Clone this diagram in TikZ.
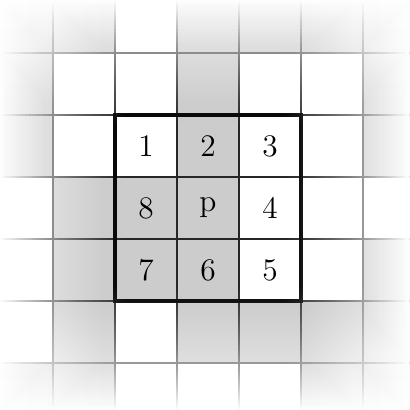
\documentclass[tikz,border=0pt]{standalone}
\usepackage{tikz}
\definecolor{cellfill}{HTML}{CCCCCC}

\begin{document}
\begin{tikzpicture}[
  font=\Large,
  cell/.style={fill=cellfill},
  gridline/.style={line width=0.55pt, draw=black!85},
  window/.style={line width=1.6pt, draw=black},
  veil/.style={fill=white, draw=none}
]
  \coordinate (tl) at (-0.855,0.855);
  \coordinate (br) at (5.742,-5.758);
  \useasboundingbox (tl) rectangle (br);
  \clip (tl) rectangle (br);

  % Gray pixels
  \foreach \cx/\cy in {-1/0,0/0,2/0,3/0,4/0,5/0,
                       -1/-1,2/-1,5/-1,
                       -1/-2,2/-2,5/-2,
                       0/-3,1/-3,2/-3,
                       0/-4,1/-4,2/-4,5/-4,
                       0/-5,2/-5,3/-5,4/-5,5/-5,
                       -1/-6,0/-6,4/-6,5/-6}
    \fill[cell] (\cx,\cy) rectangle ++(1,1);

  % Pixel grid
  \draw[gridline] (-1,-6) grid (6,1);

  % 3x3 neighbourhood of p
  \draw[window] (1,-4) rectangle (4,-1);

  % Neighbour numbering
  \node (n1) at (1.5,-1.5) {1};
  \node (n2) at (2.5,-1.5) {2};
  \node (n3) at (3.5,-1.5) {3};
  \node (n8) at (1.5,-2.5) {8};
  \node (p)  at (2.5,-2.5) {p};
  \node (n4) at (3.5,-2.5) {4};
  \node (n7) at (1.5,-3.5) {7};
  \node (n6) at (2.5,-3.5) {6};
  \node (n5) at (3.5,-3.5) {5};

  % Fade out at the borders: nested white strips, 40 steps over 2.05cm
  \foreach \j in {1,...,40} {
    \pgfmathsetmacro\dd{2.05*(41-\j)/40}
    \pgfmathsetmacro\tcur{1-((\j-0.5)/40)^1.28}
    \pgfmathsetmacro\tprev{1-(max(\j-1.5,0.0001)/40)^1.28}
    \pgfmathsetmacro\op{1-\tcur/\tprev}
    \fill[veil, opacity=\op] (tl) rectangle ([xshift=\dd cm]tl |- br);
    \fill[veil, opacity=\op] ([xshift=-\dd cm]br |- tl) rectangle (br);
    \fill[veil, opacity=\op] (tl) rectangle ([yshift=-\dd cm]br |- tl);
    \fill[veil, opacity=\op] ([yshift=\dd cm]tl |- br) rectangle (br);
  }
\end{tikzpicture}
\end{document}
